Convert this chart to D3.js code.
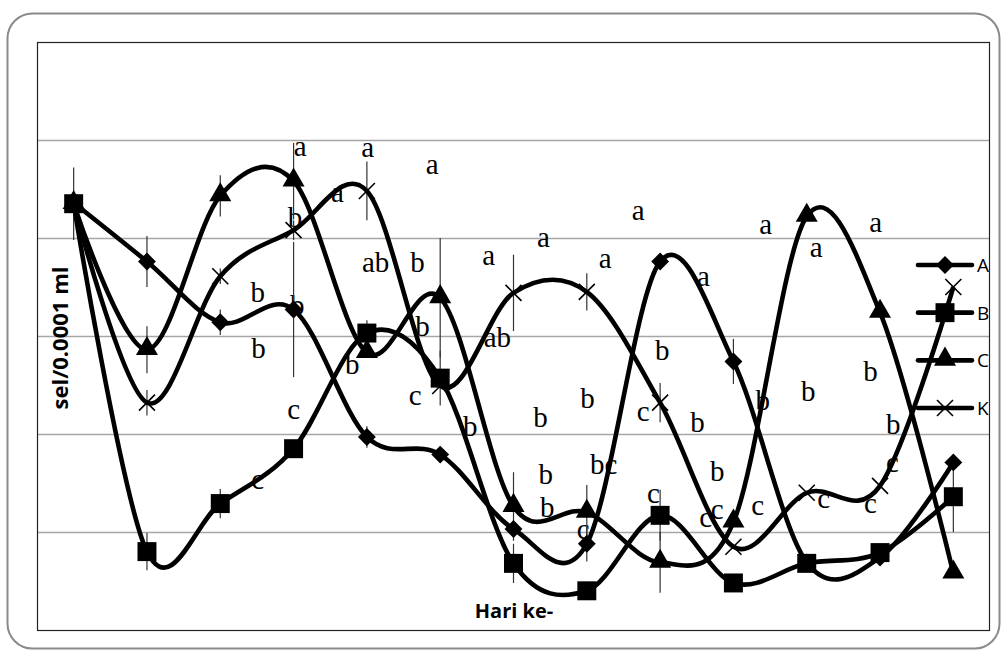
<!DOCTYPE html>
<html>
<head>
<meta charset="utf-8">
<script src="https://cdn.jsdelivr.net/npm/d3@7"></script>
<style>
	body { margin: 0; background: #fff; }
	svg { display: block; }
</style>
</head>
<body>
<svg id="chart" width="1008" height="655"></svg>
<script>
"use strict";

// Data
var days = [1, 2, 3, 4, 5, 6, 7, 8, 9, 10, 11, 12, 13];

var valuesA = [43.6, 37.6, 31.4, 32.7, 19.7, 17.9, 10.3, 8.8, 37.6, 27.4, 6.9, 7.4, 17.1];
var valuesB = [43.5, 8.0, 12.9, 18.5, 30.3, 25.7, 6.8, 4.0, 11.7, 4.8, 6.8, 7.9, 13.6];
var valuesC = [43.5, 28.6, 44.3, 45.8, 28.3, 33.9, 12.6, 12.0, 6.9, 11.0, 42.2, 32.4, 5.8];
var valuesK = [43.5, 23.2, 36.1, 40.8, 44.8, 24.9, 34.4, 34.5, 23.2, 8.5, 14.0, 14.7, 35.0];

var errA = [0, 2.6, 1.3, 6.9, 1.1, 0.8, 0, 1.8, 0, 2.3, 0, 0, 0];
var errB = [3.7, 1.9, 1.5, 0, 1.3, 2.8, 2.0, 0, 2.6, 0, 0, 0, 3.6];
var errC = [0, 2.4, 2.1, 3.9, 0, 6.1, 3.5, 2.8, 3.1, 0, 0, 0, 0];
var errK = [0, 1.3, 0.8, 1.0, 3.0, 0, 3.9, 1.9, 2.0, 0, 0, 0, 0];

var seriesNames = ["A", "B", "C", "K"];
var seriesMarkers = ["diamond", "square", "triangle", "cross"];

var gridValues = [10, 20, 30, 40, 50];

// significance letters: text, day position, value position
var letterText = ["a", "a", "a", "a", "b", "ab", "b", "a", "b", "b", "ab", "b", "c", "c", "b",
	"b", "b", "c", "a", "a", "a", "a", "b", "b", "b", "c", "b", "b", "bc", "b", "c", "c", "b",
	"c", "c", "c", "c", "c", "c", "b", "b", "b", "b", "a", "a", "a"];
var letterDay = [4.09, 5.01, 5.89, 4.60, 4.02, 5.12, 5.69, 6.66, 4.05, 5.76, 6.78, 4.80, 5.66, 4.00, 6.41,
	3.51, 3.52, 3.51, 7.41, 8.70, 8.25, 9.59, 9.03, 8.01, 7.37, 8.77, 9.51, 7.44, 8.23, 7.46, 7.95, 8.91, 9.78,
	9.62, 9.78, 10.33, 11.23, 11.87, 12.17, 12.18, 10.40, 11.02, 11.87, 10.44, 11.13, 11.94];
var letterVal = [49.3, 49.2, 47.4, 44.6, 42.0, 37.4, 37.4, 38.1, 33.0, 30.9, 29.8, 27.0, 23.8, 22.4, 20.7,
	34.4, 28.6, 15.3, 40.0, 42.7, 37.8, 36.0, 28.4, 23.5, 21.6, 22.2, 21.1, 15.8, 16.8, 12.4, 10.2, 13.8, 16.1,
	11.4, 12.2, 12.6, 13.3, 12.8, 17.0, 20.9, 23.3, 24.3, 26.3, 41.3, 39.0, 41.5];

// Layout
var plot = { left: 37, top: 42, right: 990, bottom: 630 };

var svg = d3.select("#chart");

var x = d3.scaleLinear()
	.domain([0.5, 13.5])
	.range([plot.left, plot.right]);

var y = d3.scaleLinear()
	.domain([0, 60])
	.range([plot.bottom, plot.top]);

// outer rounded frame
svg.append("rect")
	.attr("x", 7.5)
	.attr("y", 13.5)
	.attr("width", 992)
	.attr("height", 635)
	.attr("rx", 25)
	.style("fill", "#fff")
	.style("stroke", "#8a8a8a")
	.style("stroke-width", 2);

svg.append("defs").append("clipPath")
	.attr("id", "plotClip")
	.append("rect")
	.attr("x", plot.left)
	.attr("y", plot.top)
	.attr("width", plot.right - plot.left)
	.attr("height", plot.bottom - plot.top);

// gridlines
svg.append("g")
	.attr("transform", "translate(" + plot.left + ",0)")
	.call(d3.axisLeft(y)
		.tickValues(gridValues)
		.tickSize(-(plot.right - plot.left))
		.tickFormat(""))
	.call(function(g) {
		g.select(".domain").remove();
		g.selectAll(".tick line")
			.style("stroke", "#a6a6a6")
			.style("stroke-width", 1.5);
	});

// letters (drawn under the lines)
svg.append("g")
	.selectAll("text")
	.data(letterText)
	.enter()
	.append("text")
	.attr("x", function(d, i) {
		return x(letterDay[i]);
	})
	.attr("y", function(d, i) {
		return y(letterVal[i]);
	})
	.attr("dy", "0.3em")
	.attr("text-anchor", "middle")
	.style("font-family", "'Liberation Serif', 'Times New Roman', serif")
	.style("font-size", "29px")
	.style("fill", "#000")
	.text(function(d) {
		return d;
	});

var allSeries = [
	{ name: "A", values: valuesA, err: errA, marker: seriesMarkers[0] },
	{ name: "B", values: valuesB, err: errB, marker: seriesMarkers[1] },
	{ name: "C", values: valuesC, err: errC, marker: seriesMarkers[2] },
	{ name: "K", values: valuesK, err: errK, marker: seriesMarkers[3] }
];

// error bars
allSeries.forEach(function(s) {
	svg.append("g")
		.selectAll("line")
		.data(days.filter(function(d, i) {
			return s.err[i] > 0;
		}))
		.enter()
		.append("line")
		.attr("x1", function(d) {
			return x(d);
		})
		.attr("x2", function(d) {
			return x(d);
		})
		.attr("y1", function(d) {
			return y(s.values[d - 1] + s.err[d - 1]);
		})
		.attr("y2", function(d) {
			return y(s.values[d - 1] - s.err[d - 1]);
		})
		.style("stroke", "#333")
		.style("stroke-width", 1.2);
});

var line = d3.line()
	.x(function(d, i) {
		return x(days[i]);
	})
	.y(function(d) {
		return y(d);
	})
	.curve(d3.curveCardinal.tension(0));

// draw a marker of given type into a selection
function drawMarker(g, type) {
	if (type == "diamond") {
		g.append("path")
			.attr("d", d3.symbol().type(d3.symbolSquare).size(160)())
			.attr("transform", "rotate(45)")
			.style("fill", "#000");
	} else if (type == "square") {
		g.append("path")
			.attr("d", d3.symbol().type(d3.symbolSquare).size(360)())
			.style("fill", "#000");
	} else if (type == "triangle") {
		g.append("path")
			.attr("d", d3.symbol().type(d3.symbolTriangle).size(210)())
			.attr("transform", "translate(0,-1)")
			.style("fill", "#000");
	} else {
		g.append("path")
			.attr("d", "M-8,-8L8,8M-8,8L8,-8")
			.style("stroke", "#000")
			.style("stroke-width", 1.6)
			.style("fill", "none");
	}
}

var seriesG = svg.append("g").attr("clip-path", "url(#plotClip)");

allSeries.forEach(function(s) {
	seriesG.append("path")
		.datum(s.values)
		.attr("d", line)
		.style("fill", "none")
		.style("stroke", "#000")
		.style("stroke-width", 4.6)
		.style("stroke-linejoin", "round");
});

allSeries.forEach(function(s) {
	seriesG.append("g")
		.selectAll("g")
		.data(s.values)
		.enter()
		.append("g")
		.attr("transform", function(d, i) {
			return "translate(" + x(days[i]) + "," + y(d) + ")";
		})
		.each(function() {
			drawMarker(d3.select(this), s.marker);
		});
});

// legend
var legend = svg.append("g").attr("clip-path", "url(#plotClip)");
var legendY = d3.scalePoint()
	.domain(seriesNames)
	.range([265, 408]);

allSeries.forEach(function(s) {
	var item = legend.append("g")
		.attr("transform", "translate(945," + legendY(s.name) + ")");
	item.append("line")
		.attr("x1", -27)
		.attr("x2", 27)
		.style("stroke", "#000")
		.style("stroke-width", 4.6)
		.style("stroke-linecap", "round");
	drawMarker(item, s.marker);
	item.append("text")
		.attr("x", 32)
		.attr("dy", "0.36em")
		.style("font-family", "'Open Sans', 'Liberation Sans', sans-serif")
		.style("font-size", "19px")
		.style("fill", "#000")
		.text(s.name);
});

// plot border
svg.append("rect")
	.attr("x", plot.left + 0.5)
	.attr("y", plot.top + 0.5)
	.attr("width", plot.right - plot.left - 1)
	.attr("height", plot.bottom - plot.top)
	.style("fill", "none")
	.style("stroke", "#222")
	.style("stroke-width", 1.2);

// axis titles
svg.append("text")
	.attr("transform", "translate(68,338) rotate(-90)")
	.attr("text-anchor", "middle")
	.style("font-family", "'Open Sans', 'Liberation Sans', sans-serif")
	.style("font-weight", "bold")
	.style("font-size", "22px")
	.text("sel/0.0001 ml");

svg.append("text")
	.attr("x", 514)
	.attr("y", 618)
	.attr("text-anchor", "middle")
	.style("font-family", "'Open Sans', 'Liberation Sans', sans-serif")
	.style("font-weight", "bold")
	.style("font-size", "20px")
	.text("Hari ke-");
</script>
</body>
</html>
